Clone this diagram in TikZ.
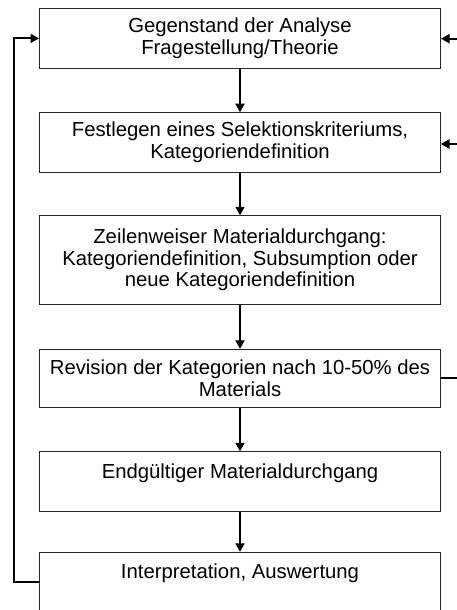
\documentclass[tikz,border=0pt]{standalone}
\usepackage{fontspec}
\setmainfont{Liberation Sans}
\usetikzlibrary{arrows.meta}
\begin{document}
\begin{tikzpicture}[x=1pt,y=-1pt,
  stepbox/.style={draw=black!85, line width=1pt, rectangle, minimum width=401pt,
    inner sep=0pt, align=center,
    font=\fontsize{20.3}{21.5}\selectfont},
  conn/.style={line width=2pt, -{Triangle[length=8.5pt,width=9pt]}},
  plain/.style={line width=2pt}]
\useasboundingbox (0,0) rectangle (457,610);
\clip (0,0) rectangle (457,610);
\fill[white] (0,0) rectangle (457,610);
\node[stepbox, minimum height=59.8pt] (b1) at (240,38.4) {Gegenstand der Analyse\\Fragestellung/Theorie};
\node[stepbox, minimum height=59.6pt] (b2) at (240,142.5) {Festlegen eines Selektionskriteriums,\\Kategoriendefinition};
\node[stepbox, minimum height=88.3pt] (b3) at (240,259.9) {Zeilenweiser Materialdurchgang:\\Kategoriendefinition, Subsumption oder\\neue Kategoriendefinition};
\node[stepbox, minimum height=58pt] (b4) at (240,378.3) {Revision der Kategorien nach 10-50\% des\\Materials};
\node[stepbox, minimum height=59.3pt] (b5) at (240,481.4) {Endgültiger Materialdurchgang\\~};
\node[stepbox, minimum height=59.3pt] (b6) at (240,582) {Interpretation, Auswertung\\~};
\coordinate (r1) at (457,38.7);
\coordinate (r2) at (457,144);
\coordinate (r4) at (457,378.3);
\coordinate (lft) at (14.3,0);
\draw[conn] (b1) -- (b2);
\draw[conn] (b2) -- (b3);
\draw[conn] (b3) -- (b4);
\draw[conn] (b4) -- (b5);
\draw[conn] (b5) -- (b6);
\draw[conn] (r1) -- (b1.east |- r1);
\draw[conn] (r2) -- (b2.east |- r2);
\draw[plain] (r4) -- (b4.east |- r4);
\draw[conn] (b6.west) -- (lft |- b6.west) -- (lft |- b1.west) -- (b1.west);
\end{tikzpicture}
\end{document}
